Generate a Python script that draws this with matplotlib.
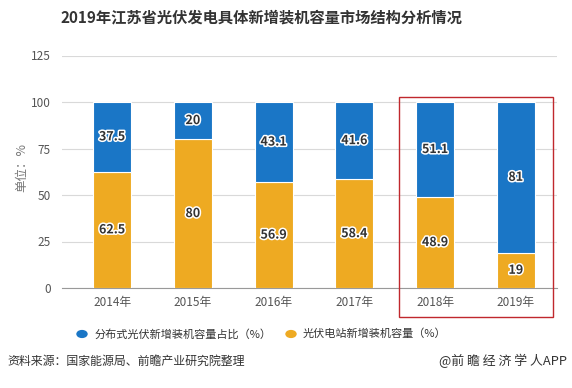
import matplotlib
matplotlib.use("Agg")

import matplotlib.pyplot as plt
import matplotlib.patheffects as pe
from matplotlib.patches import Rectangle
import numpy as np

plt.rcParams["font.family"] = ["Noto Sans CJK SC", "DejaVu Sans"]

# --- data ---
years = ["2014年", "2015年", "2016年", "2017年", "2018年", "2019年"]
station_share = [62.5, 80, 56.9, 58.4, 48.9, 19]       # 光伏电站 (bottom, orange)
distributed_share = [37.5, 20, 43.1, 41.6, 51.1, 81]   # 分布式 (top, blue)
y_ticks = [0, 25, 50, 75, 100, 125]

BLUE = "#1a76c6"
ORANGE = "#eeaa22"
GRID = "#d9d9d9"
TICK = "#555555"

fig = plt.figure(figsize=(5.72, 3.88), dpi=100)
ax = fig.add_axes([62 / 572, 1 - 288 / 388, 495 / 572, 232.5 / 388])

x = np.arange(len(years))
width = 38 / 80.8
ax.bar(x, station_share, width, color=ORANGE, edgecolor="white", linewidth=0.8, zorder=3)
ax.bar(x, distributed_share, width, bottom=station_share, color=BLUE,
       edgecolor="white", linewidth=0.8, zorder=3)

outline = [pe.withStroke(linewidth=2.2, foreground="white")]
for xi, low, high in zip(x, station_share, distributed_share):
    ax.text(xi, low / 2, f"{low:g}", ha="center", va="center", fontsize=9,
            fontweight="bold", color="#333333", path_effects=outline, zorder=4)
    ax.text(xi, low + high / 2, f"{high:g}", ha="center", va="center", fontsize=9,
            fontweight="bold", color="#333333", path_effects=outline, zorder=4)

ax.set_xlim(-0.62, 5.51)
ax.set_ylim(0, 125)
ax.set_yticks(y_ticks)
ax.set_xticks(x)
ax.set_xticklabels(years)
ax.tick_params(axis="both", colors=TICK, labelsize=8.5, length=0)
ax.tick_params(axis="x", pad=6)
ax.tick_params(axis="y", pad=8)
ax.grid(axis="y", color=GRID, linewidth=0.8, zorder=0)
for side in ["top", "right", "left"]:
    ax.spines[side].set_visible(False)
ax.spines["bottom"].set_color("#999999")
ax.spines["bottom"].set_linewidth(0.8)

fig.text(22 / 572, 1 - 168 / 388, "单位：%", rotation=90, ha="center", va="center",
         fontsize=9, color="#777777")

# highlight box around 2018-2019
fig.patches.append(Rectangle((399 / 572, 1 - 317 / 388), 154 / 572, 220 / 388,
                             transform=fig.transFigure, fill=False,
                             edgecolor="#c0282d", linewidth=1.0))

fig.text(261 / 572, 1 - 17 / 388, "2019年江苏省光伏发电具体新增装机容量市场结构分析情况",
         ha="center", va="center", fontsize=11, fontweight="bold", color="#333333")

# legend
leg_y = 1 - 334 / 388
fig.patches.append(plt.Circle((82 / 572, leg_y), 5 / 572, transform=fig.transFigure,
                              color=BLUE))
fig.text(95 / 572, leg_y, "分布式光伏新增装机容量占比（%）", ha="left", va="center",
         fontsize=8, color="#333333")
fig.patches.append(plt.Circle((291 / 572, leg_y), 5 / 572, transform=fig.transFigure,
                              color=ORANGE))
fig.text(303 / 572, leg_y, "光伏电站新增装机容量（%）", ha="left", va="center",
         fontsize=8, color="#333333")

fig.text(7 / 572, 1 - 361 / 388, "资料来源：国家能源局、前瞻产业研究院整理", ha="left",
         va="center", fontsize=8.6, color="#333333")
fig.text(567 / 572, 1 - 361 / 388, "@前 瞻 经 济 学 人APP", ha="right", va="center",
         fontsize=9.3, color="#333333")

fig.savefig("out.png", dpi=100)
